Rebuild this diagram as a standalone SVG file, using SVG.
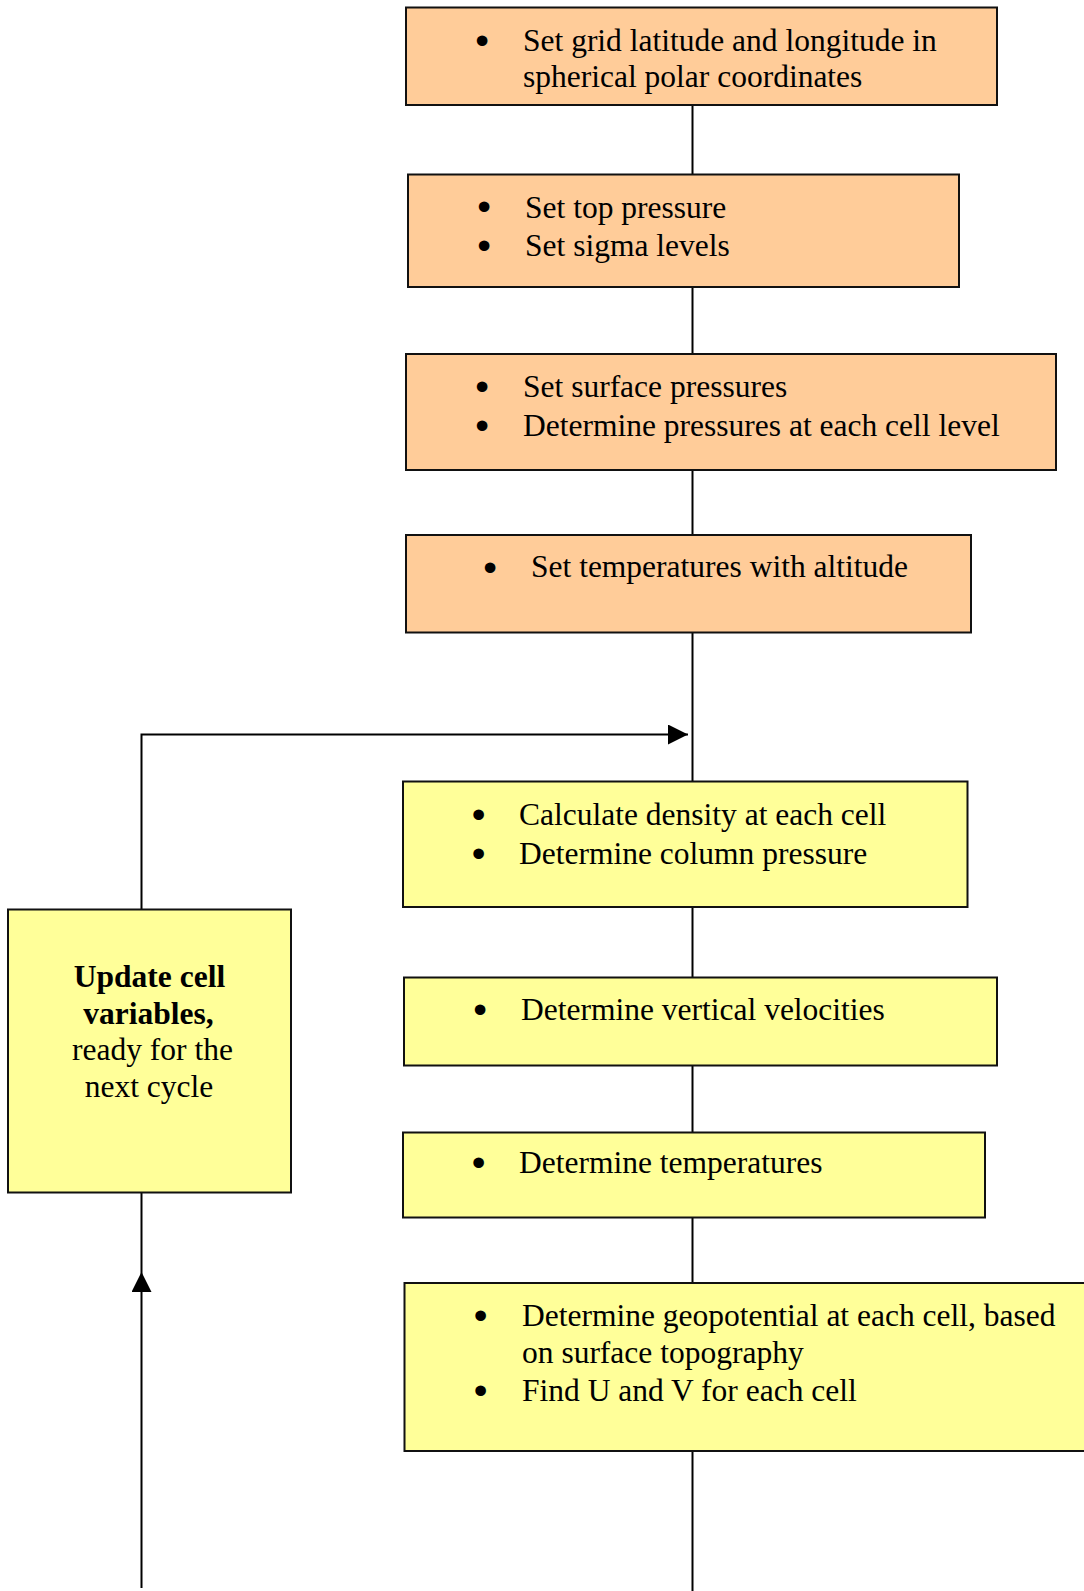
<svg xmlns="http://www.w3.org/2000/svg" width="1084" height="1591" viewBox="0 0 1084 1591">
<style>
.box{stroke:#111;stroke-width:2}
.or{fill:#FFCC99}
.ye{fill:#FFFF99}
.t{font-family:"Liberation Serif","Times New Roman",serif;font-size:31.5px;fill:#000}
.b{font-family:"Liberation Serif","Times New Roman",serif;font-size:32px;fill:#000;stroke:#000;stroke-width:3;stroke-linejoin:round;text-anchor:middle}
.c{text-anchor:middle}
.bold{font-weight:bold}
.ln{stroke:#000;stroke-width:2;fill:none}
</style>
<defs>
<marker id="ah" viewBox="0 0 20 20" refX="20" refY="10" markerWidth="20" markerHeight="20" markerUnits="userSpaceOnUse" orient="auto">
<path d="M0,0 L20,10 L0,20 Z" fill="#000"/>
</marker>
</defs>
<g id="connectors">
<line class="ln" x1="692.5" y1="105" x2="692.5" y2="174"/>
<line class="ln" x1="692.5" y1="287" x2="692.5" y2="354"/>
<line class="ln" x1="692.5" y1="470" x2="692.5" y2="535"/>
<line class="ln" x1="692.5" y1="632" x2="692.5" y2="781"/>
<line class="ln" x1="692.5" y1="907" x2="692.5" y2="977"/>
<line class="ln" x1="692.5" y1="1066" x2="692.5" y2="1132"/>
<line class="ln" x1="692.5" y1="1218" x2="692.5" y2="1283"/>
<line class="ln" x1="692.5" y1="1451" x2="692.5" y2="1591"/>
<path class="ln" d="M141.5,909 L141.5,734.5 L688,734.5" marker-end="url(#ah)"/>
<path class="ln" d="M141.5,1588 L141.5,1272" marker-end="url(#ah)"/>
<line class="ln" x1="141.5" y1="1193" x2="141.5" y2="1272"/>
</g>
<g id="n1">
<rect class="box or" x="406" y="7.5" width="591" height="97.5"/>
<text class="b" x="482" y="51.5">•</text>
<text class="t" x="523" y="51">Set grid latitude and longitude in</text>
<text class="t" x="523" y="86.5">spherical polar coordinates</text>
</g>
<g id="n2">
<rect class="box or" x="408" y="174.5" width="551" height="112.5"/>
<text class="b" x="484" y="218">•</text>
<text class="b" x="484" y="256.5">•</text>
<text class="t" x="525" y="217.5">Set top pressure</text>
<text class="t" x="525" y="256">Set sigma levels</text>
</g>
<g id="n3">
<rect class="box or" x="406" y="354" width="650" height="116"/>
<text class="b" x="482" y="397.5">•</text>
<text class="b" x="482" y="436.5">•</text>
<text class="t" x="523" y="396.5">Set surface pressures</text>
<text class="t" x="523" y="435.5">Determine pressures at each cell level</text>
</g>
<g id="n4">
<rect class="box or" x="406" y="535" width="565" height="97.5"/>
<text class="b" x="490" y="578.5">•</text>
<text class="t" x="531" y="577">Set temperatures with altitude</text>
</g>
<g id="n5">
<rect class="box ye" x="403" y="781.5" width="564.5" height="125.5"/>
<text class="b" x="478.5" y="825.5">•</text>
<text class="b" x="478.5" y="864.5">•</text>
<text class="t" x="519" y="824.5">Calculate density at each cell</text>
<text class="t" x="519" y="863.5">Determine column pressure</text>
</g>
<g id="n6">
<rect class="box ye" x="8" y="909.5" width="283" height="283"/>
<text class="t c bold" x="149.5" y="986.5">Update cell</text>
<text class="t c bold" x="148.5" y="1023.5">variables,</text>
<text class="t c" x="152.5" y="1060">ready for the</text>
<text class="t c" x="149" y="1097">next cycle</text>
</g>
<g id="n7">
<rect class="box ye" x="404" y="977.5" width="593" height="88"/>
<text class="b" x="480" y="1020.5">•</text>
<text class="t" x="521" y="1019.5">Determine vertical velocities</text>
</g>
<g id="n8">
<rect class="box ye" x="403" y="1132.5" width="582" height="85"/>
<text class="b" x="478.5" y="1174">•</text>
<text class="t" x="519" y="1173">Determine temperatures</text>
</g>
<g id="n9">
<rect class="box ye" x="404.5" y="1283" width="690" height="168"/>
<text class="b" x="480.5" y="1326.5">•</text>
<text class="b" x="480.5" y="1401.5">•</text>
<text class="t" x="522" y="1325.5">Determine geopotential at each cell, based</text>
<text class="t" x="522" y="1362.5">on surface topography</text>
<text class="t" x="522" y="1400.5">Find U and V for each cell</text>
</g>
</svg>
